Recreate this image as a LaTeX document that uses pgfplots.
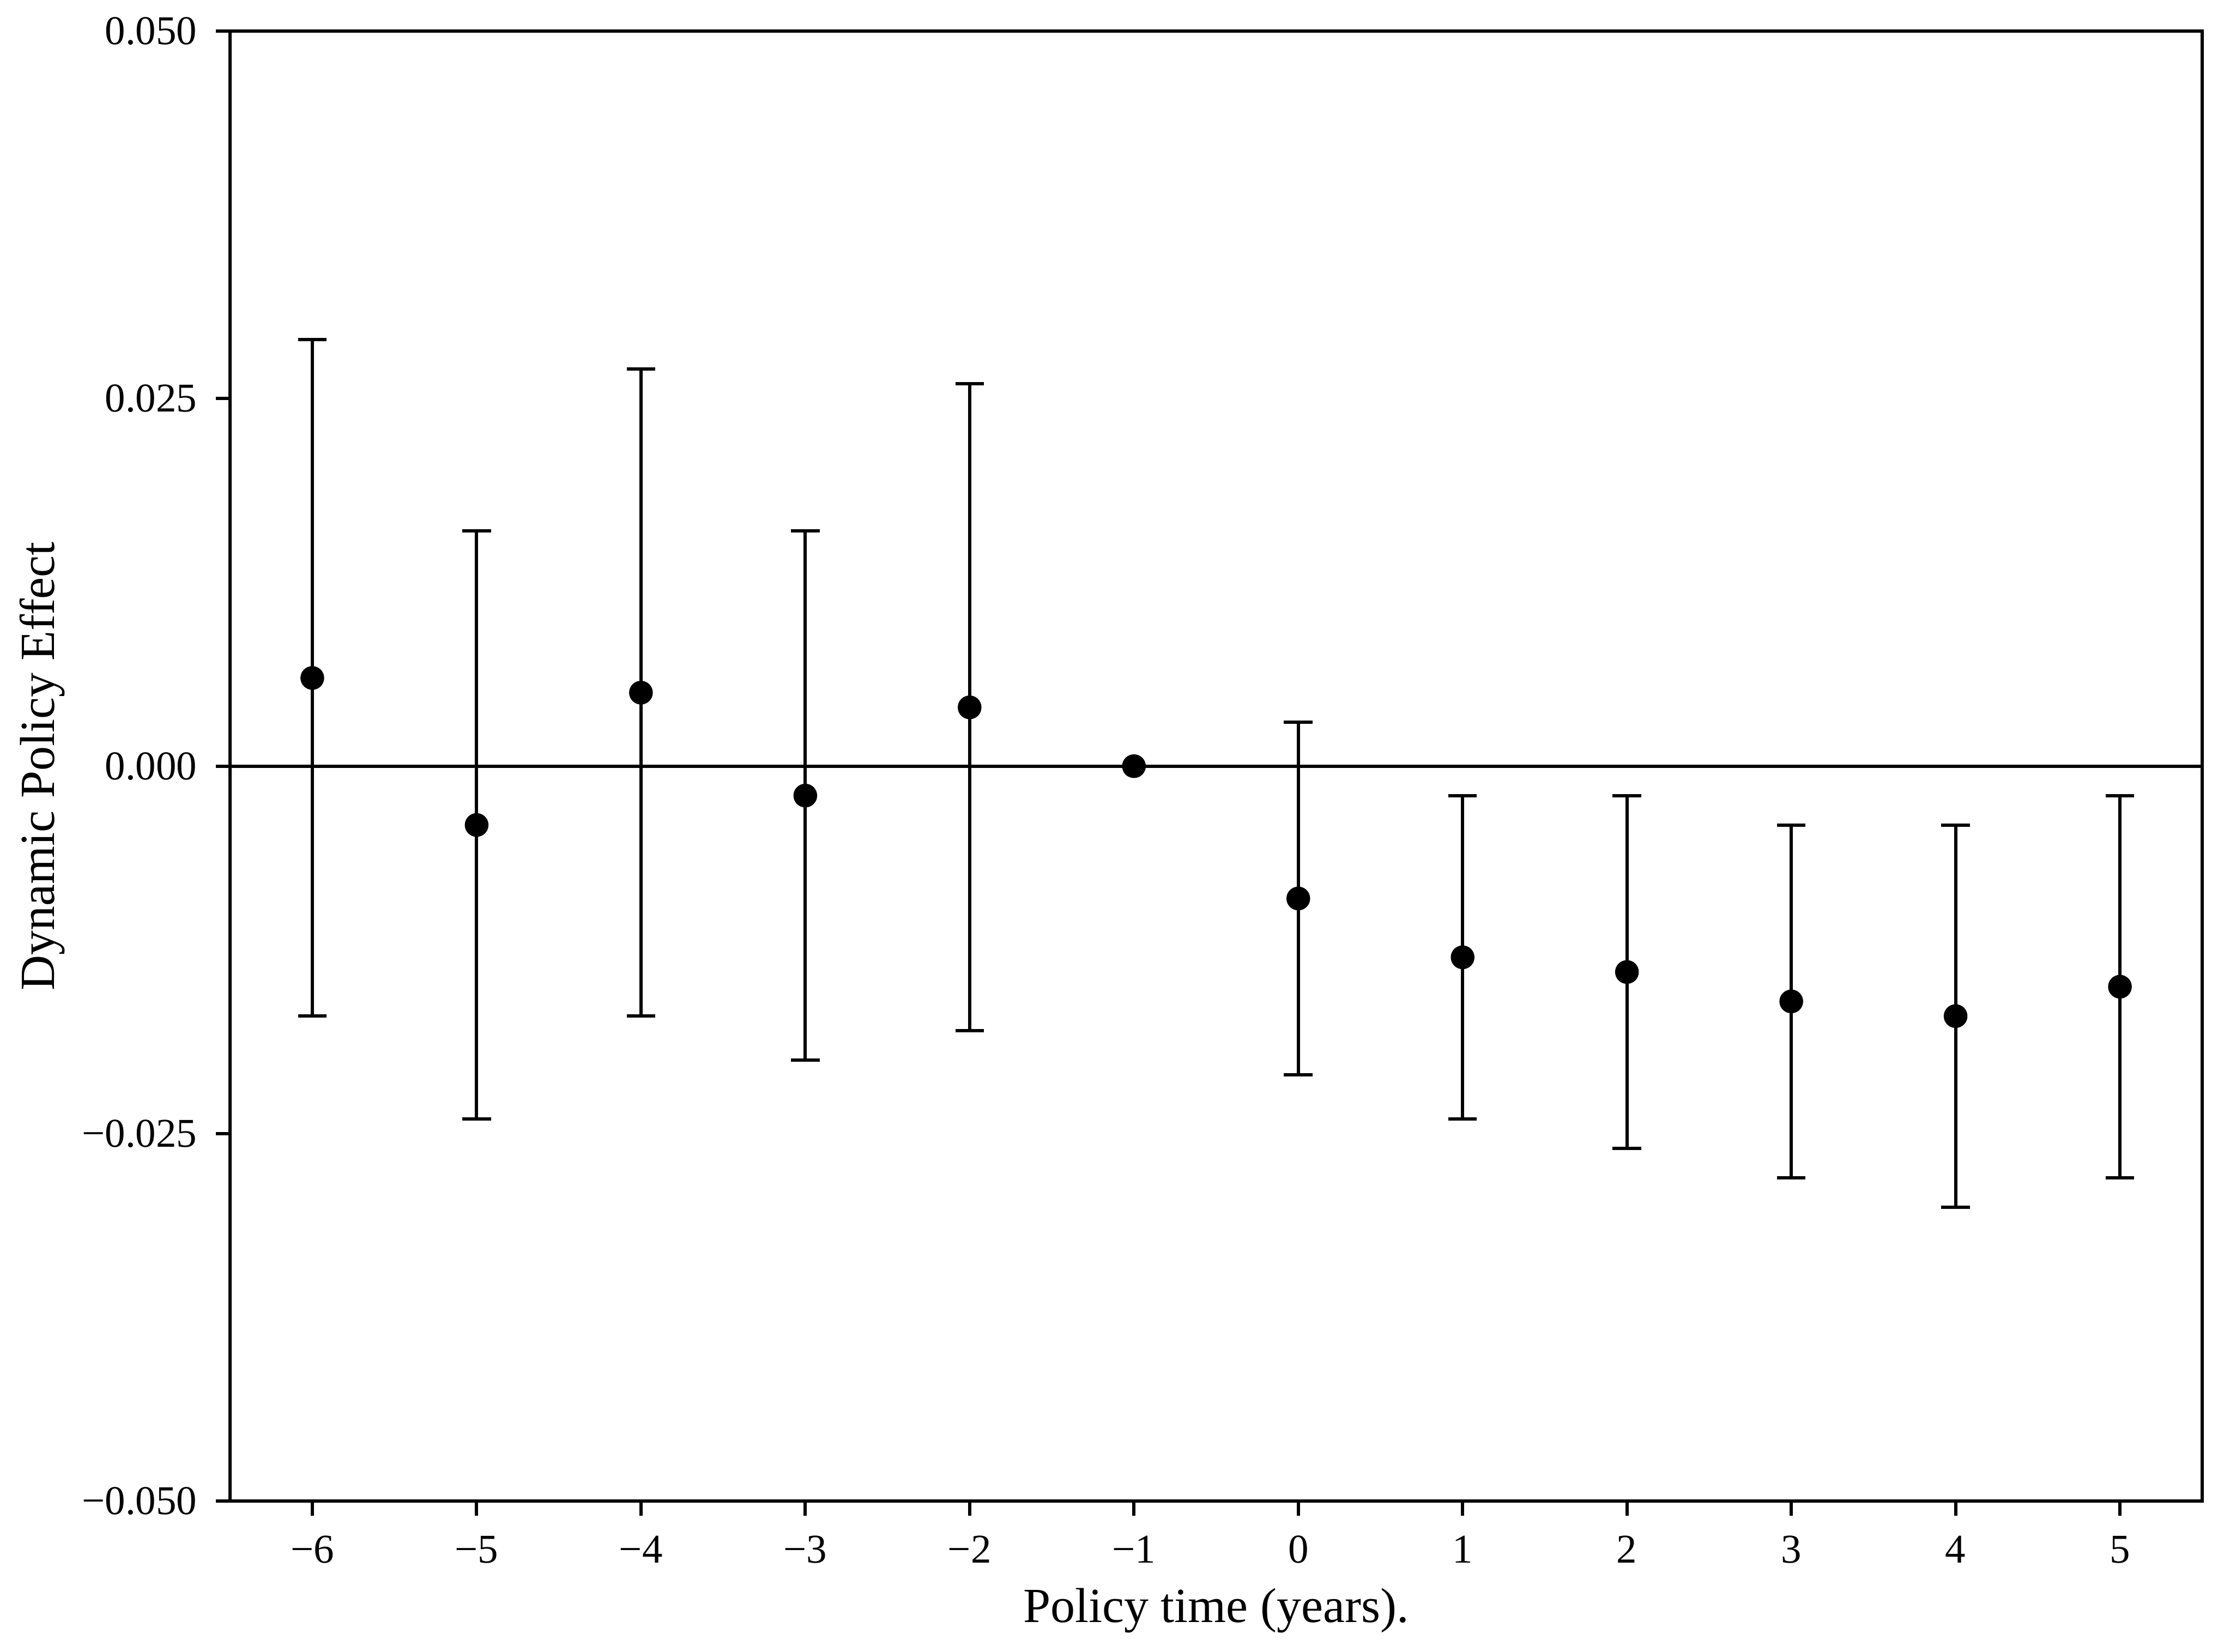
\documentclass[border=0pt]{standalone}
\usepackage{fontspec}
\setmainfont{Liberation Serif}
\usepackage{pgfplots}
\pgfplotsset{compat=1.18}
\begin{document}
\begin{tikzpicture}
\begin{axis}[
  scale only axis,
  width=482.4pt, height=359.7pt,
  xmin=-6.5, xmax=5.5, ymin=-0.05, ymax=0.05,
  scaled y ticks=false, scaled x ticks=false,
  xtick={-6,-5,-4,-3,-2,-1,0,1,2,3,4,5},
  xticklabels={−6,−5,−4,−3,−2,−1,0,1,2,3,4,5},
  ytick={-0.05,-0.025,0,0.025,0.05},
  yticklabels={−0.050,−0.025,0.000,0.025,0.050},
  tick pos=left, tick align=outside, major tick length=3.5pt,
  every tick/.style={black, line width=0.8pt},
  axis line style={line width=0.8pt},
  ticklabel style={font=\fontsize{10}{12}\selectfont},
  xticklabel style={anchor=base, inner sep=0pt, yshift=-11.6pt},
  yticklabel style={anchor=east, inner sep=0pt, xshift=-4.4pt},
  xlabel={Policy time (years).},
  ylabel={Dynamic Policy Effect},
  xlabel style={at={([yshift=-29.6pt]rel axis cs:0.5,0)}, anchor=base, inner sep=0pt, font=\fontsize{12}{14}\selectfont},
  ylabel style={at={([xshift=-43pt]rel axis cs:0,0.5)}, anchor=base, inner sep=0pt, font=\fontsize{12}{14}\selectfont},
]
\addplot[black, line width=0.8pt, forget plot] coordinates {(-6.5,0) (5.5,0)};
\addplot[only marks, mark=*, mark size=2.7pt, mark options={fill=black, draw=black},
  error bars/.cd, y dir=both, y explicit,
  error bar style={line width=0.8pt, black},
  error mark options={rotate=90, line width=0.8pt, black, mark size=3.5pt}]
coordinates {
  (-6, 0.006)  += (0,0.023) -= (0,0.023)
  (-5,-0.004)  += (0,0.020) -= (0,0.020)
  (-4, 0.005)  += (0,0.022) -= (0,0.022)
  (-3,-0.002)  += (0,0.018) -= (0,0.018)
  (-2, 0.004)  += (0,0.022) -= (0,0.022)
  (-1, 0.000)  += (0,0) -= (0,0)
  (0,-0.009)   += (0,0.012) -= (0,0.012)
  (1,-0.013)   += (0,0.011) -= (0,0.011)
  (2,-0.014)   += (0,0.012) -= (0,0.012)
  (3,-0.016)   += (0,0.012) -= (0,0.012)
  (4,-0.017)   += (0,0.013) -= (0,0.013)
  (5,-0.015)   += (0,0.013) -= (0,0.013)
};
\coordinate (bl) at (rel axis cs:0,0);
\coordinate (tr) at (rel axis cs:1,1);
\end{axis}
\path ([shift={(-56.3pt,-36.8pt)}]bl) rectangle ([shift={(3.9pt,7.6pt)}]tr);
\end{tikzpicture}
\end{document}
